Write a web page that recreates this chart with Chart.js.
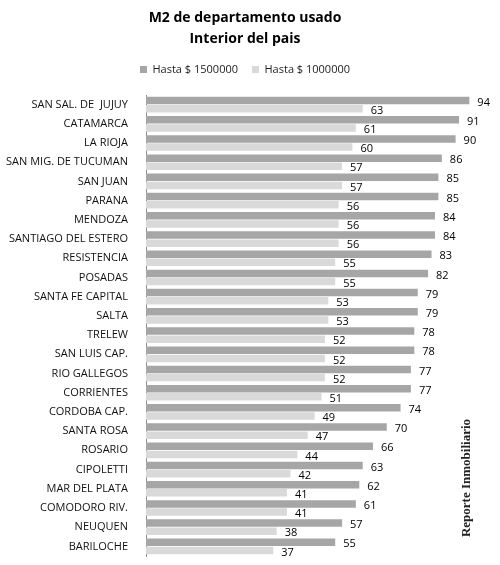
<!DOCTYPE html>
<html lang="es">
<head>
    <meta charset="UTF-8">
    <title>M2 de departamento usado</title>
    <style>
        html, body { margin: 0; padding: 0; background: #fff; }
        #wrap { width: 500px; height: 565px; position: relative; }
    </style>
</head>
<body>
    <div id="wrap"><canvas id="chart"></canvas></div>

    <script src="https://cdn.jsdelivr.net/npm/chart.js"></script>
    <script>
        // datos
        const ciudades = [
            'SAN SAL. DE  JUJUY', 'CATAMARCA', 'LA RIOJA', 'SAN MIG. DE TUCUMAN', 'SAN JUAN',
            'PARANA', 'MENDOZA', 'SANTIAGO DEL ESTERO', 'RESISTENCIA', 'POSADAS',
            'SANTA FE CAPITAL', 'SALTA', 'TRELEW', 'SAN LUIS CAP.', 'RIO GALLEGOS',
            'CORRIENTES', 'CORDOBA CAP.', 'SANTA ROSA', 'ROSARIO', 'CIPOLETTI',
            'MAR DEL PLATA', 'COMODORO RIV.', 'NEUQUEN', 'BARILOCHE'
        ];
        const hasta1500000 = [94, 91, 90, 86, 85, 85, 84, 84, 83, 82, 79, 79, 78, 78, 77, 77, 74, 70, 66, 63, 62, 61, 57, 55];
        const hasta1000000 = [63, 61, 60, 57, 57, 56, 56, 56, 55, 55, 53, 53, 52, 52, 52, 51, 49, 47, 44, 42, 41, 41, 38, 37];

        const fuente = "'Open Sans', 'Liberation Sans', sans-serif";

        // etiquetas de valor al final de cada barra
        const etiquetas = {
            id: 'etiquetas',
            afterDatasetsDraw(chart) {
                const ctx = chart.ctx;
                ctx.save();
                ctx.font = '11px ' + fuente;
                ctx.fillStyle = '#000';
                ctx.textBaseline = 'middle';
                chart.data.datasets.forEach((ds, i) => {
                    chart.getDatasetMeta(i).data.forEach((bar, j) => {
                        ctx.fillText(ds.data[j], bar.x + 8, bar.y + 2);
                    });
                });
                ctx.restore();
            }
        };

        // mas aire debajo de la leyenda
        const espacioLeyenda = {
            id: 'espacioLeyenda',
            afterInit(chart) {
                const fit = chart.legend.fit;
                chart.legend.fit = function () {
                    fit.call(this);
                    this.height += 10;
                };
            }
        };

        // marca de agua vertical
        const marca = {
            id: 'marca',
            afterDraw(chart) {
                const ctx = chart.ctx;
                ctx.save();
                ctx.translate(467, 478);
                ctx.rotate(-Math.PI / 2);
                ctx.font = 'bold 13px "Liberation Serif", "DejaVu Serif", serif';
                ctx.fillStyle = '#222';
                ctx.textAlign = 'center';
                ctx.textBaseline = 'middle';
                ctx.fillText('Reporte Inmobiliario', 0, 0);
                ctx.restore();
            }
        };

        const ctx = document.getElementById('chart').getContext('2d');
        new Chart(ctx, {
            type: 'bar',
            data: {
                labels: ciudades,
                datasets: [
                    {
                        label: 'Hasta $ 1500000',
                        data: hasta1500000,
                        backgroundColor: '#a6a6a6',
                        categoryPercentage: 0.85,
                        barPercentage: 0.92
                    },
                    {
                        label: 'Hasta $ 1000000',
                        data: hasta1000000,
                        backgroundColor: '#d9d9d9',
                        categoryPercentage: 0.85,
                        barPercentage: 0.92
                    }
                ]
            },
            options: {
                indexAxis: 'y',
                responsive: true,
                maintainAspectRatio: false,
                animation: false,
                layout: { padding: { left: 0, right: 10, top: 0, bottom: 9 } },
                plugins: {
                    title: {
                        display: true,
                        text: ['M2 de departamento usado', 'Interior del pais'],
                        color: '#000',
                        font: { family: fuente, size: 14, weight: 'bold', lineHeight: 1.5 },
                        padding: { top: 8, bottom: 0 }
                    },
                    legend: {
                        labels: {
                            color: '#222',
                            font: { family: fuente, size: 11 },
                            boxWidth: 7,
                            boxHeight: 7,
                            padding: 14
                        }
                    },
                    tooltip: { enabled: false }
                },
                scales: {
                    x: {
                        display: false,
                        min: 0,
                        max: 100
                    },
                    y: {
                        afterFit(scale) {
                            scale.width = 146;
                            scale.paddingBottom = 0;
                        },
                        grid: { display: false },
                        border: { display: true, color: '#8c8c8c' },
                        ticks: {
                            color: '#111',
                            font: { family: fuente, size: 11 },
                            padding: 10,
                            autoSkip: false
                        }
                    }
                }
            },
            plugins: [etiquetas, espacioLeyenda, marca]
        });
    </script>
</body>
</html>
